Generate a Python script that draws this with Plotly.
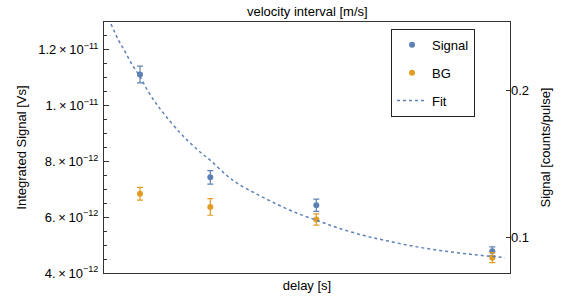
import plotly.graph_objects as go

# ---- data ----
delay = [0.887, 2.618, 5.229, 9.564]                # arbitrary delay units
signal = [11.12e-12, 7.43e-12, 6.43e-12, 4.78e-12]  # Vs
signal_err = [0.30e-12, 0.24e-12, 0.22e-12, 0.16e-12]
bg = [6.84e-12, 6.37e-12, 5.92e-12, 4.55e-12]
bg_err = [0.23e-12, 0.30e-12, 0.20e-12, 0.18e-12]

fit_x = [0.172, 0.352, 0.517, 0.697, 0.887, 1.091, 1.298, 1.520, 1.872, 2.118,
         2.365, 2.611, 2.998, 3.268, 3.761, 4.254, 4.746, 5.239, 5.732, 6.387,
         6.921, 7.618, 8.357, 9.096, 9.877]
fit_y = [12.93e-12, 12.36e-12, 11.94e-12, 11.46e-12, 11.04e-12, 10.50e-12, 10.05e-12,
         9.63e-12, 9.03e-12, 8.67e-12, 8.34e-12, 8.05e-12, 7.53e-12, 7.23e-12,
         6.83e-12, 6.47e-12, 6.15e-12, 5.89e-12, 5.63e-12, 5.35e-12, 5.17e-12,
         4.96e-12, 4.79e-12, 4.66e-12, 4.55e-12]

left_tickvals = [4e-12, 6e-12, 8e-12, 1e-11, 1.2e-11]
left_ticktext = ["4.\u2009×\u200910<sup>−12</sup>", "6.\u2009×\u200910<sup>−12</sup>",
                 "8.\u2009×\u200910<sup>−12</sup>", "1.\u2009×\u200910<sup>−11</sup>",
                 "1.2\u2009×\u200910<sup>−11</sup>"]
right_tickvals = [0.1, 0.2]
right_ticktext = ["0.1", "0.2"]

BLUE = "#5E81B5"
ORANGE = "#E19C24"
FONT = "Liberation Sans, Arial, sans-serif"

fig = go.Figure()
fig.add_trace(go.Scatter(
    x=delay, y=signal, mode="markers", name="Signal", legendgroup="a",
    marker=dict(color=BLUE, size=6),
    error_y=dict(type="data", array=signal_err, color=BLUE, thickness=1.2, width=3)))
fig.add_trace(go.Scatter(
    x=delay, y=bg, mode="markers", name="BG", legendgroup="b",
    marker=dict(color=ORANGE, size=6),
    error_y=dict(type="data", array=bg_err, color=ORANGE, thickness=1.2, width=3)))
fig.add_trace(go.Scatter(
    x=fit_x, y=fit_y, mode="lines", name="Fit", legendgroup="c",
    line=dict(color=BLUE, width=1.5, dash="3px,3px", shape="spline")))
fig.add_trace(go.Scatter(x=[], y=[], yaxis="y2", showlegend=False, hoverinfo="skip"))

fig.update_layout(
    width=571, height=305,
    margin=dict(l=104, r=61, t=22, b=32, autoexpand=False),
    paper_bgcolor="white", plot_bgcolor="white",
    font=dict(family=FONT, size=13, color="black"),
    xaxis=dict(range=[0, 10], showticklabels=False, ticks="", showgrid=False, automargin=False,
               zeroline=False, showline=True, linecolor="#333", linewidth=1, mirror=True,
               title=dict(text="delay [s]", font=dict(size=13), standoff=7)),
    yaxis=dict(range=[4e-12, 1.3e-11], tickmode="array", tickvals=left_tickvals,
               ticktext=left_ticktext, ticks="inside", ticklen=5, tickcolor="#333",
               minor=dict(tickmode="linear", tick0=4e-12, dtick=0.5e-12, ticks="inside",
                          ticklen=3, tickcolor="#333"),
               showgrid=False, zeroline=False, showline=True, linecolor="#333", linewidth=1,
               mirror=True, tickfont=dict(size=13), automargin=False, ticklabelstandoff=2,
               title=dict(text="Integrated Signal [Vs]", font=dict(size=13), standoff=8)),
    yaxis2=dict(overlaying="y", side="right", range=[0.0762, 0.2464], tickmode="array",
                tickvals=right_tickvals, ticktext=right_ticktext, ticks="inside", ticklen=4,
                tickcolor="#333", showgrid=False, zeroline=False, showline=False,
                tickfont=dict(size=13), automargin=False,
                title=dict(text="Signal [counts/pulse]", font=dict(size=13), standoff=12)),
    legend=dict(x=0.707, y=0.973, xanchor="left", yanchor="top", bordercolor="#222",
                borderwidth=1, bgcolor="white", tracegroupgap=8,
                font=dict(size=13), itemwidth=30),
    annotations=[dict(text="velocity interval [m/s]", xref="paper", yref="paper",
                      x=0.5, y=1, yanchor="bottom", yshift=1, showarrow=False,
                      font=dict(size=13))],
    showlegend=True,
)

fig.write_html("out.html", config={"displayModeBar": False},
               post_script="document.body.style.margin='0';")
